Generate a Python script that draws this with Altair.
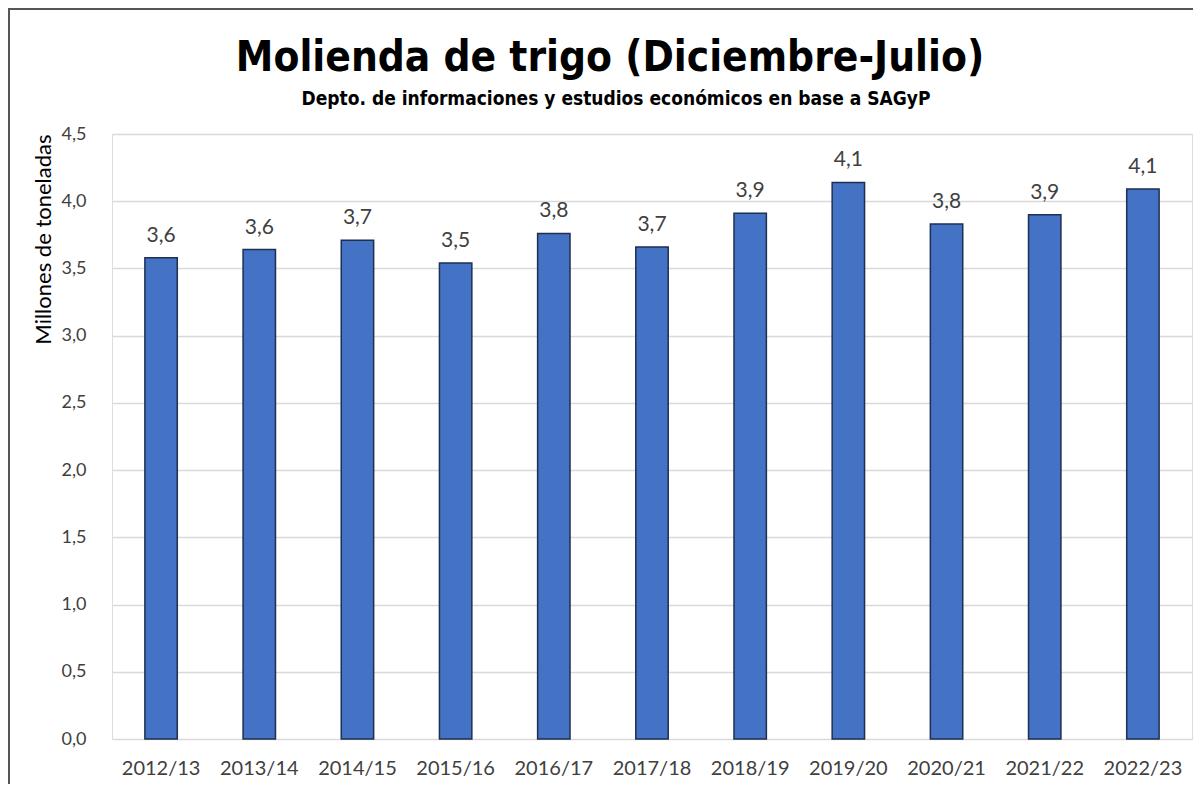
import altair as alt
import pandas as pd

campanas = ["2012/13", "2013/14", "2014/15", "2015/16", "2016/17", "2017/18",
            "2018/19", "2019/20", "2020/21", "2021/22", "2022/23"]
molienda = [3.58, 3.64, 3.71, 3.54, 3.76, 3.66, 3.91, 4.14, 3.83, 3.90, 4.09]
y_ticks = [0, 0.5, 1.0, 1.5, 2.0, 2.5, 3.0, 3.5, 4.0, 4.5]
titulo = ["Molienda de trigo (Diciembre-Julio)"]
subtitulo = ["Depto. de informaciones y estudios económicos en base a SAGyP"]

df = pd.DataFrame({"campana": campanas, "valor": molienda})
df_tit = pd.DataFrame({"t": titulo, "s": subtitulo})

W, H = 1080, 605
LBL_FONT = "Lato"
TIT_FONT = "DejaVu Sans Condensed"

x_enc = alt.X("campana:N", sort=campanas, title=None,
              scale=alt.Scale(paddingInner=0.67, paddingOuter=0.335),
              axis=alt.Axis(labelAngle=0, labelFont=LBL_FONT, labelFontSize=20,
                            labelColor="#404040", labelPadding=19, ticks=False,
                            domain=False, grid=False))
y_enc = alt.Y("valor:Q", title="Millones de toneladas",
              scale=alt.Scale(domain=[0, 4.5], nice=False),
              axis=alt.Axis(values=y_ticks, labelFont=LBL_FONT, labelFontSize=18,
                            labelColor="#404040", labelPadding=26, ticks=False,
                            domain=False, gridColor="#d9d9d9", gridWidth=1.5,
                            labelExpr="replace(format(datum.value, '.1f'), '.', ',')",
                            titleFont=LBL_FONT, titleFontSize=22, titleFontWeight="normal",
                            titleColor="#000000", titleAnchor="end", titlePadding=6))

bars = alt.Chart(df).mark_bar(color="#4472C4", stroke="#1f2f4f", strokeWidth=1.5).encode(
    x=x_enc, y=y_enc)

labels = alt.Chart(df).transform_calculate(
    lbl="replace(format(datum.valor, '.1f'), '.', ',')"
).mark_text(dy=-22, font=LBL_FONT, fontSize=21, color="#404040").encode(
    x=alt.X("campana:N", sort=campanas),
    y=alt.Y("valor:Q"),
    text="lbl:N")

title_mark = alt.Chart(df_tit).mark_text(
    font=TIT_FONT, fontSize=42, fontWeight="bold", color="#000000",
    align="center", baseline="alphabetic").encode(
    x=alt.value(498), y=alt.value(-63), text="t:N")
subtitle_mark = alt.Chart(df_tit).mark_text(
    font=TIT_FONT, fontSize=19, fontWeight="bold", color="#000000",
    align="center", baseline="alphabetic").encode(
    x=alt.value(504), y=alt.value(-29), text="s:N")

border = alt.Chart(df_tit).mark_rule(color="#555555", strokeWidth=2, clip=False).encode(
    x=alt.value(-103), y=alt.value(-126), y2=alt.value(H + 60))
border_top = alt.Chart(df_tit).mark_rule(color="#555555", strokeWidth=2, clip=False).encode(
    x=alt.value(-104), x2=alt.value(W + 20), y=alt.value(-125))

chart = alt.layer(border, border_top, bars, labels, title_mark, subtitle_mark).properties(
    width=W, height=H,
    padding={"left": 104, "top": 126, "right": 1, "bottom": 45},
    autosize=alt.AutoSizeParams(type="none"),
).configure_view(stroke=None).configure(background="white")

chart.save("out.html", embed_options={"renderer": "svg", "actions": False})
